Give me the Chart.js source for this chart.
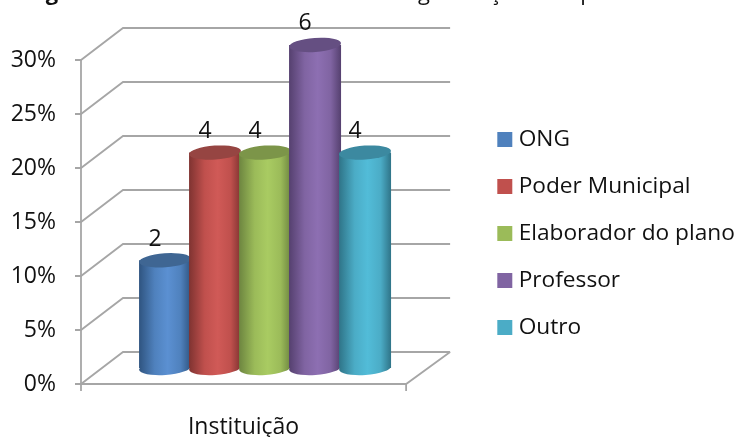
<!DOCTYPE html>
<html><head><meta charset="utf-8">
<style>html,body{margin:0;padding:0;background:#fff}#w{position:relative;width:736px;height:437px}</style>
<script src="https://cdn.jsdelivr.net/npm/chart.js@4"></script></head>
<body><div id="w"><canvas id="c" width="736" height="437"></canvas></div>
<script>
const categories = ['Instituição'];
const seriesNames = ['ONG','Poder Municipal','Elaborador do plano','Professor','Outro'];
const percentValues = [10,20,20,30,20];
const countLabels = ['2','4','4','6','4'];
const baseColors = ['#4F81BD','#C0504D','#9BBB59','#8064A2','#4BACC6'];
const lightColors = ['#5b90d2','#d05a57','#a9cb62','#8d6fb2','#52bcd8'];
const darkColors = ['#2f5480','#7f3331','#6d8540','#55406f','#2f7488'];
const topColors = ['#3f6693','#964542','#7c9549','#654f82','#3c89a0'];
const clippedTitleGlyphs = [['g',52,true],['g',424,false],['ç',495,false],['p',587,false]];
const tickStep = 5;
const FONT = '"Open Sans"';
const DEPTH_X = 42, DEPTH_Y = 32;

const threeD = {
  id:'threeD',
  afterLayout(chart){
    const x2 = chart.scales.x2, a = chart.chartArea;
    const c = (a.left+a.right)/2 + DEPTH_X/2 + .5, half = 125;
    x2.left = c-half; x2.right = c+half; x2.width = 2*half;
    x2.configure();
    const lg = chart.legend, w = lg.width;
    lg.left = 478; lg.right = 478+w; lg.top -= 15; lg.bottom -= 15;
  },
  beforeDatasetsDraw(chart){
    const {ctx, chartArea:a, scales:{y}} = chart;
    ctx.save();
    ctx.strokeStyle='#a6a6a6'; ctx.lineWidth=1.8;
    y.ticks.forEach(t=>{
      const p=y.getPixelForValue(t.value);
      ctx.beginPath();
      ctx.moveTo(a.left-6,p); ctx.lineTo(a.left,p);
      ctx.lineTo(a.left+DEPTH_X,p-DEPTH_Y); ctx.lineTo(a.right+DEPTH_X+2,p-DEPTH_Y);
      ctx.stroke();
    });
    ctx.beginPath(); ctx.moveTo(a.left,a.top); ctx.lineTo(a.left,a.bottom+7); ctx.stroke();
    const b=a.bottom;
    ctx.beginPath();
    ctx.moveTo(a.left,b); ctx.lineTo(a.right,b); ctx.lineTo(a.right+DEPTH_X+2,b-DEPTH_Y);
    ctx.moveTo(a.right,b); ctx.lineTo(a.right,b+7);
    ctx.stroke();
    ctx.fillStyle='#111'; ctx.textAlign='center'; ctx.textBaseline='alphabetic';
    clippedTitleGlyphs.forEach(([ch,x,bold])=>{
      ctx.font=(bold?'bold ':'')+'22px '+FONT;
      ctx.fillText(ch,x,0);
    });
    ctx.restore();
  },
  beforeDatasetDraw(chart,args){
    const {ctx}=chart, i=args.index, bar=args.meta.data[0];
    const w=bar.width, l=bar.x-w/2;
    const g=ctx.createLinearGradient(l,0,l+w,0);
    g.addColorStop(0,darkColors[i]); g.addColorStop(.3,baseColors[i]);
    g.addColorStop(.55,lightColors[i]); g.addColorStop(.8,baseColors[i]); g.addColorStop(1,darkColors[i]);
    bar.options.backgroundColor=g;
    bar.$grad=g;
  },
  afterDatasetDraw(chart,args){
    const {ctx}=chart, i=args.index, bar=args.meta.data[0];
    const rx=bar.width/2, ry=7, tilt=-0.07;
    ctx.save();
    ctx.fillStyle=bar.$grad;
    ctx.beginPath(); ctx.ellipse(bar.x,bar.base,rx,ry,tilt,0,Math.PI*2); ctx.fill();
    ctx.fillStyle=topColors[i];
    ctx.beginPath(); ctx.ellipse(bar.x,bar.y,rx,ry,tilt,0,Math.PI*2); ctx.fill();
    ctx.fillStyle='#111';
    ctx.font='23px '+FONT; ctx.textAlign='center'; ctx.textBaseline='middle';
    ctx.fillText(countLabels[i],bar.x-10,bar.y-21);
    ctx.restore();
  }
};

new Chart(document.getElementById('c'),{
  type:'bar',
  data:{labels:categories,
    datasets:seriesNames.map((n,i)=>({label:n,data:[{x:n,y:percentValues[i]}],backgroundColor:baseColors[i],
      xAxisID:'x2',yAxisID:'y2',order:5-i,clip:false,grouped:false,barPercentage:1.04,categoryPercentage:1}))},
  plugins:[threeD],
  options:{
    responsive:false,animation:false,
    layout:{padding:{left:0,right:63,top:60,bottom:0}},
    scales:{
      x:{labels:categories,position:'bottom',grid:{display:false},border:{display:false},offset:true,
         afterFit(s){s.height=53;},
         ticks:{color:'#111',font:{family:FONT,size:23},padding:22}},
      x2:{labels:seriesNames,display:false,position:'bottom',offset:true},
      y:{min:0,max:30,position:'left',grid:{display:false},border:{display:false},
         afterFit(s){s.width=81;},
         ticks:{stepSize:tickStep,color:'#111',padding:17,font:{family:FONT,size:23},callback:v=>v+'%'}},
      y2:{display:false,min:-1.49,max:28.6,position:'left'}
    },
    plugins:{
      legend:{position:'right',align:'center',maxWidth:320,
        labels:{color:'#111',font:{family:FONT,size:22.7},boxWidth:5,boxHeight:5,padding:24.3,
          sort:(a,b)=>a.datasetIndex-b.datasetIndex,
          generateLabels(chart){
            return seriesNames.map((n,i)=>({text:n,fillStyle:baseColors[i],strokeStyle:baseColors[i],lineWidth:10,datasetIndex:i,fontColor:'#111'}));
          }}},
      tooltip:{enabled:false}
    }
  }
});
</script></body></html>
